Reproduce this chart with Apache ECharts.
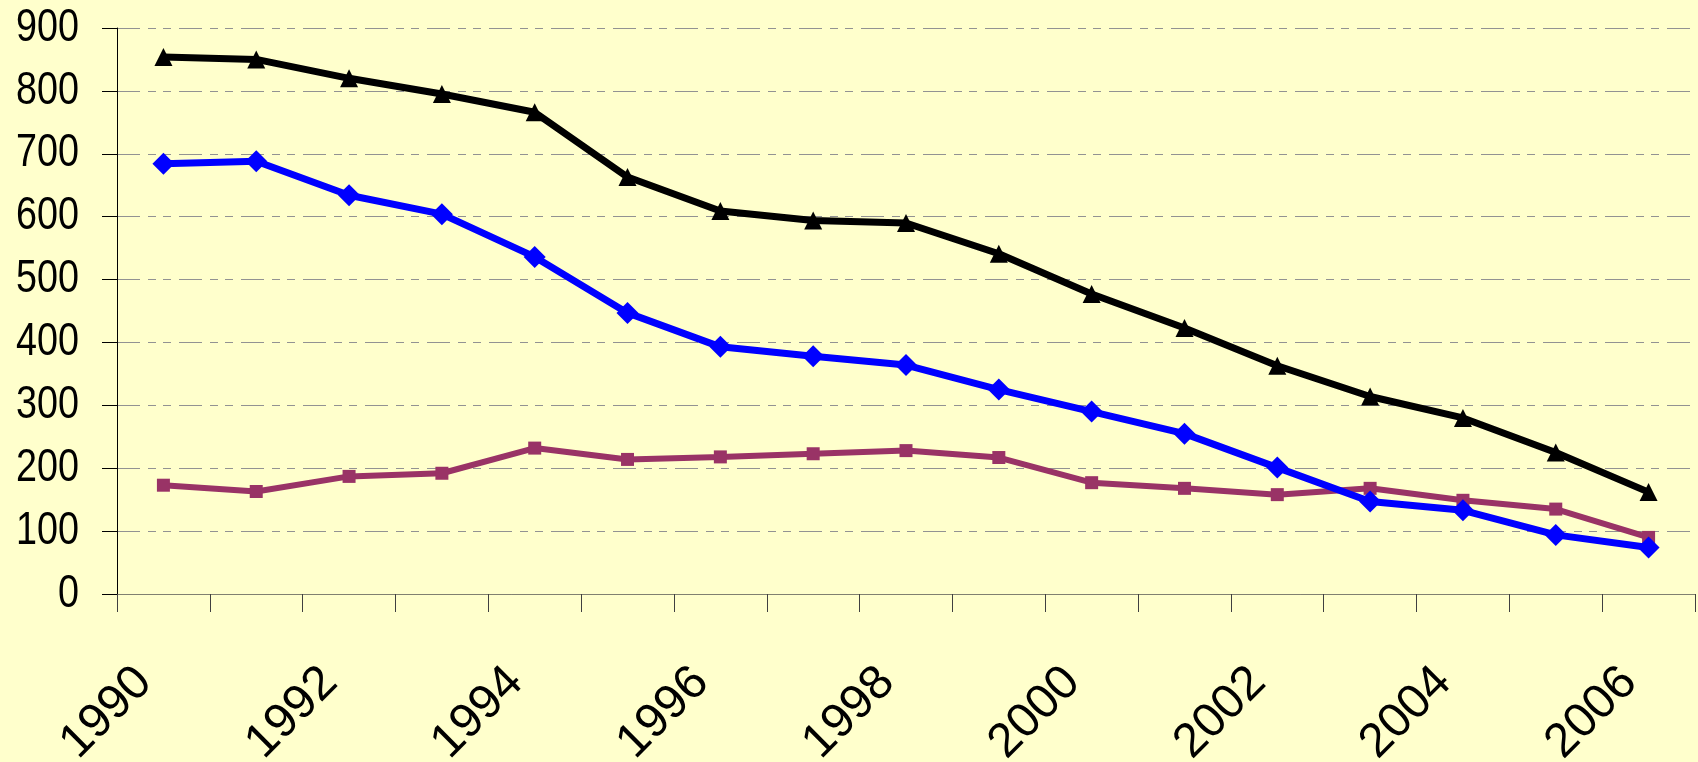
<!DOCTYPE html>
<html>
<head>
<meta charset="utf-8">
<script src="https://cdn.jsdelivr.net/npm/echarts@6/dist/echarts.min.js"></script>
<style>
html,body{margin:0;padding:0;background:#FFFFCC;}
#chart{width:1698px;height:762px;}
</style>
</head>
<body>
<div id="chart"></div>
<script>
const years = ['1990','1991','1992','1993','1994','1995','1996','1997','1998','1999','2000','2001','2002','2003','2004','2005','2006'];
const blackTriangle = [854, 850, 820, 795, 766, 663, 609, 594, 590, 541, 477, 423, 363, 314, 280, 225, 162];
const blueDiamond = [684, 688, 634, 604, 536, 447, 393, 378, 364, 325, 290, 255, 201, 147, 133, 94, 74];
const purpleSquare = [173, 163, 187, 192, 232, 214, 218, 223, 228, 217, 177, 168, 158, 168, 149, 135, 90];
const yTickValues = [0, 100, 200, 300, 400, 500, 600, 700, 800, 900];
const yMin = 0, yMax = 900, yInterval = 100;

const GRID_LEFT = 117;
const FONT = '"Liberation Sans", Arial, sans-serif';
const chart = echarts.init(document.getElementById('chart'));
chart.setOption({
  backgroundColor: '#FFFFCC',
  animation: false,
  grid: {left: GRID_LEFT, right: 3, top: 28, bottom: 168, containLabel: false, outerBoundsMode: 'none'},
  xAxis: {
    type: 'category',
    data: years,
    boundaryGap: true,
    axisLine: {show: true, lineStyle: {color: '#808070', width: 1}},
    axisTick: {show: true, interval: 0, length: 18, lineStyle: {color: '#404040', width: 1}},
    axisLabel: {
      interval: 1, rotate: 45, margin: 62,
      fontFamily: FONT, fontSize: 48, color: '#000',
      padding: [0, 27, 0, 0]
    },
    splitLine: {show: false}
  },
  yAxis: {
    type: 'value',
    min: yMin, max: yMax, interval: yInterval,
    axisLine: {show: true, lineStyle: {color: '#000', width: 1}},
    axisTick: {show: true, length: 15, lineStyle: {color: '#000', width: 1}},
    axisLabel: {show: false},
    splitLine: {show: true, lineStyle: {color: '#929292', width: 1, type: [23, 8, 8, 7, 8, 8]}}
  },
  series: [
    {
      type: 'line', data: purpleSquare, symbol: 'rect', symbolSize: 13,
      lineStyle: {color: '#993366', width: 6}, itemStyle: {color: '#993366'}, z: 3
    },
    {
      type: 'line', data: blueDiamond, symbol: 'diamond', symbolSize: 22,
      lineStyle: {color: '#0000FF', width: 7}, itemStyle: {color: '#0000FF'}, z: 4
    },
    {
      type: 'line', data: blackTriangle, symbol: 'triangle', symbolSize: 18,
      lineStyle: {color: '#000000', width: 7}, itemStyle: {color: '#000000'}, z: 5
    }
  ]
});

// Y-axis tick labels drawn as condensed text at positions from the axis scale
chart.setOption({
  graphic: yTickValues.map(v => ({
    type: 'text',
    x: GRID_LEFT - 38,
    y: chart.convertToPixel({yAxisIndex: 0}, v),
    scaleX: 0.82,
    style: {
      text: String(v),
      font: '46px ' + FONT,
      fill: '#000',
      textAlign: 'right',
      textVerticalAlign: 'middle'
    }
  }))
});
</script>
</body>
</html>
